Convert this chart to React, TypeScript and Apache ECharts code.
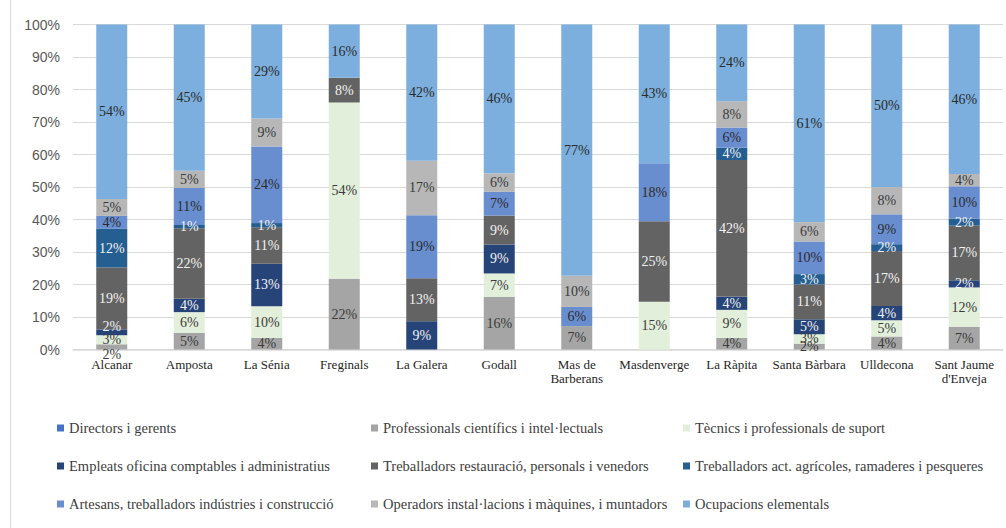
import React, { useEffect, useRef } from "react";
import * as echarts from "echarts";

const categories = [
  "Alcanar", "Amposta", "La Sénia", "Freginals", "La Galera", "Godall",
  "Mas de\nBarberans", "Masdenverge", "La Ràpita", "Santa Bàrbara", "Ulldecona", "Sant Jaume\nd'Enveja",
];

const seriesNames = [
  "Directors i gerents",
  "Professionals científics i intel·lectuals",
  "Tècnics i professionals de suport",
  "Empleats oficina comptables i administratius",
  "Treballadors restauració, personals i venedors",
  "Treballadors act. agrícoles, ramaderes i pesqueres",
  "Artesans, treballadors indústries i construcció",
  "Operadors instal·lacions i màquines, i muntadors",
  "Ocupacions elementals",
];

const directors = [0, 0, 0, 0, 0, 0, 0, 0, 0, 0, 0, 0];
const professionals = [1.6, 5.1, 3.6, 21.8, 0, 16.2, 7.2, 0, 3.6, 1.8, 4.0, 7.0];
const tecnics = [2.8, 6.4, 9.7, 54.2, 0, 7.2, 0, 14.7, 8.6, 2.9, 5.0, 12.1];
const empleats = [1.8, 4.1, 13.1, 0, 8.7, 8.9, 0, 0, 4.1, 4.6, 4.4, 2.2];
const restauracio = [19.0, 21.7, 11.2, 7.6, 13.2, 8.9, 0, 24.8, 42.0, 10.7, 16.9, 16.8];
const agricoles = [12.0, 1.0, 1.3, 0, 0, 0, 0, 0, 3.8, 3.2, 2.1, 2.2];
const artesans = [3.9, 11.4, 23.6, 0, 19.4, 7.3, 5.9, 17.8, 6.2, 10.0, 9.2, 9.9];
const operadors = [5.2, 5.3, 8.6, 0, 16.8, 5.7, 9.6, 0, 8.1, 6.0, 8.4, 3.8];
const elementals = [53.7, 45.0, 28.9, 16.4, 41.9, 45.8, 77.3, 42.7, 23.6, 60.8, 50.0, 46.0];

const allValues = [directors, professionals, tecnics, empleats, restauracio, agricoles, artesans, operadors, elementals];

const colors = ["#4472C4", "#A5A5A5", "#E2EFDA", "#264478", "#636363", "#255E91", "#698ED0", "#B7B7B7", "#7CAFDD"];
const labelColors = ["#ffffff", "#3a3a3a", "#3a3a3a", "#f2f2f2", "#f2f2f2", "#f2f2f2", "#2b2b2b", "#3a3a3a", "#2b2b2b"];

export default function App() {
  const ref = useRef<HTMLDivElement>(null);
  useEffect(() => {
    if (!ref.current) return;
    const chart = echarts.init(ref.current, null, { renderer: "svg" });
    const series = seriesNames.map((name, si) => ({
      name,
      type: "bar",
      stack: "total",
      barWidth: "40%",
      itemStyle: { color: colors[si] },
      label: {
        show: true,
        position: "inside",
        color: labelColors[si],
        fontFamily: "Liberation Serif",
        fontSize: 14,
        formatter: (p: any) => (p.value > 0 ? Math.round(p.value) + "%" : ""),
      },
      data: allValues[si].map((v, ci) => {
        if (ci === 0 && si === 1) return { value: v, label: { offset: [0, 8] } };
        if (ci === 0 && si === 3) return { value: v, label: { offset: [0, -6] } };
        return v;
      }),
    }));

    const legendBase = {
      orient: "vertical",
      itemWidth: 7,
      itemHeight: 7,
      itemGap: 22,
      padding: 0,
      icon: "rect",
      textStyle: { fontFamily: "Liberation Serif", fontSize: 14.5, color: "#404040", lineHeight: 16 },
      top: 420,
    };

    chart.setOption({
      animation: false,
      backgroundColor: "#ffffff",
      grid: { left: 73, right: 3, top: 24.5, bottom: 178.5 },
      legend: [
        { ...legendBase, left: 57, data: [seriesNames[0], seriesNames[3], seriesNames[6]] },
        { ...legendBase, left: 371, data: [seriesNames[1], seriesNames[4], seriesNames[7]] },
        { ...legendBase, left: 683, data: [seriesNames[2], seriesNames[5], seriesNames[8]] },
      ],
      xAxis: {
        type: "category",
        data: categories,
        axisLine: { lineStyle: { color: "#d9d9d9", width: 1.5 } },
        axisTick: { show: false },
        axisLabel: {
          fontFamily: "Liberation Serif",
          fontSize: 13,
          color: "#262626",
          margin: 8,
          lineHeight: 14,
          interval: 0,
        },
      },
      yAxis: {
        type: "value",
        min: 0,
        max: 100,
        interval: 10,
        axisLine: { show: false },
        axisTick: { show: false },
        splitLine: { lineStyle: { color: "#d9d9d9", width: 1 } },
        axisLabel: {
          formatter: "{value}%",
          fontFamily: "Liberation Sans",
          fontSize: 14,
          color: "#595959",
          margin: 13,
        },
      },
      graphic: [
        { type: "line", shape: { x1: 10.5, y1: 0, x2: 10.5, y2: 528 }, style: { stroke: "#d9d9d9", lineWidth: 1 } },
      ],
      series,
    });
    return () => chart.dispose();
  }, []);
  return <div ref={ref} style={{ position: "fixed", left: 0, top: 0, width: 1006, height: 528 }} />;
}
